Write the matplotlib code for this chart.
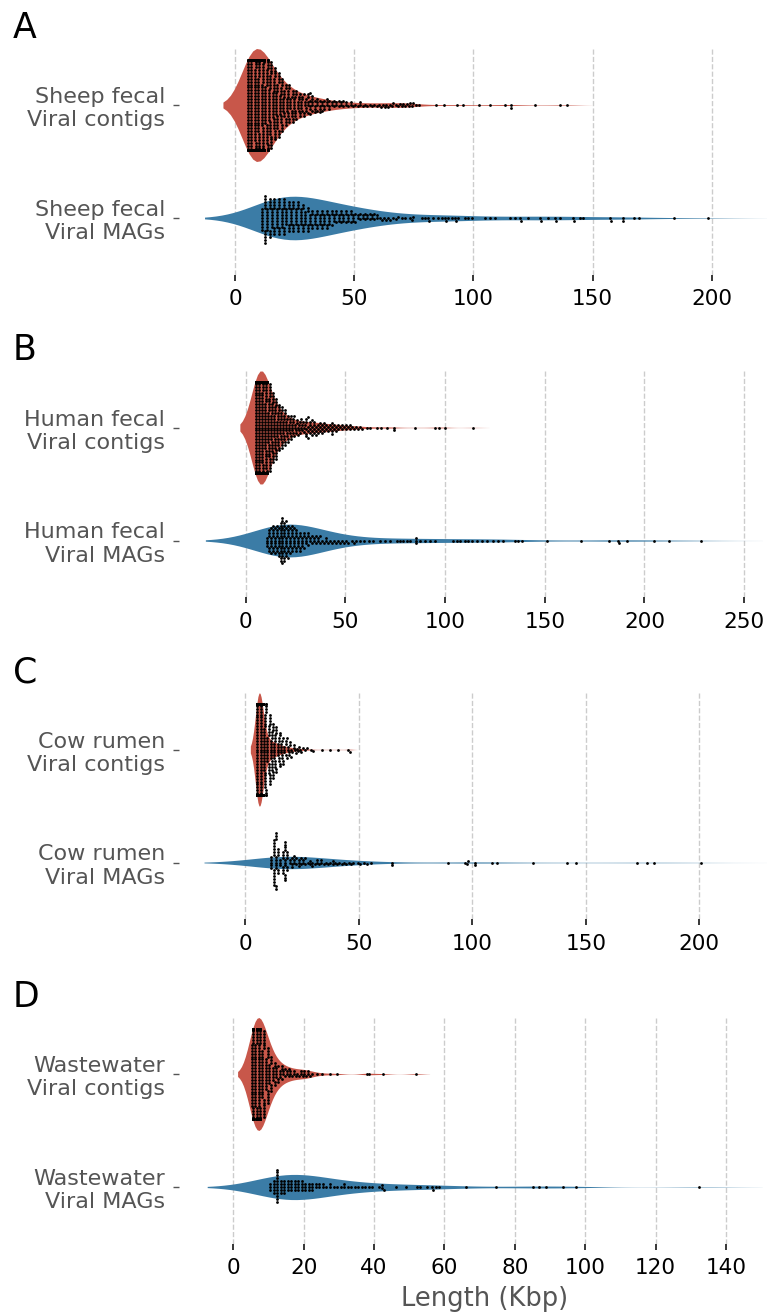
import numpy as np
import pandas as pd
import seaborn as sns
import matplotlib.pyplot as plt
from matplotlib.ticker import MultipleLocator

# length grids (kbp) used for the binned parts of each distribution
CORE_BINS = [5.25, 5.75, 6.25, 6.75, 7.25, 7.75, 8.25, 8.75, 9.25, 9.75,
             10.25, 10.75, 11.25, 11.75, 12.25, 12.75, 13.25, 13.75, 14.25, 14.75,
             15.25, 15.75, 16.25, 16.75, 17.25, 17.75, 18.25, 18.75, 19.25, 19.75,
             20.25, 20.75, 21.25, 21.75, 22.25, 22.75, 23.25, 23.75, 24.25, 24.75,
             25.25, 25.75, 26.25, 26.75, 27.25, 27.75, 28.25, 28.75, 29.25, 29.75]
WIDE_BINS = [30.5, 31.5, 32.5, 33.5, 34.5, 35.5, 36.5, 37.5, 38.5, 39.5,
             40.5, 41.5, 42.5, 43.5, 44.5, 45.5, 46.5, 47.5, 48.5, 49.5,
             50.5, 51.5, 52.5, 53.5, 54.5, 55.5, 56.5, 57.5, 58.5, 59.5]
MAG_BINS = [10.5, 11.5, 12.5, 13.5, 14.5, 15.5, 16.5, 17.5, 18.5, 19.5,
            20.5, 21.5, 22.5, 23.5, 24.5, 25.5, 26.5, 27.5, 28.5, 29.5,
            30.5, 31.5, 32.5, 33.5, 34.5, 35.5, 36.5, 37.5, 38.5, 39.5,
            40.5, 41.5, 42.5, 43.5, 44.5, 45.5, 46.5, 47.5, 48.5, 49.5,
            50.5, 51.5, 52.5, 53.5, 54.5, 55.5, 56.5, 57.5, 58.5, 59.5]

# sheep fecal
sheep_contig_core = [38, 36, 33, 31, 29, 27, 25, 23, 21, 19, 17, 16, 15, 15, 14, 13, 13, 12, 11, 10,
                     10, 9, 9, 8, 8, 8, 7, 7, 6, 6, 5, 5, 5, 5, 5, 4, 4, 4, 4, 4,
                     4, 3, 3, 3, 3, 3, 3, 3, 2, 3]
sheep_contig_wide = [5, 5, 5, 4, 4, 4, 3, 3, 3, 3, 2, 2, 2, 2, 2, 2, 2, 1, 2, 1,
                     1, 1, 2, 1, 1, 1, 1, 1, 1, 1]
sheep_contig_single = [60.5, 61.2, 62.0, 62.8, 63.5, 64.3, 65.0, 66.0, 66.4, 67.5, 68.5, 69.2,
                       69.9, 70.5, 71.3, 72.0, 72.8, 73.4, 74.1, 74.8, 76.0, 77.3, 84.3, 87.7,
                       93.0, 95.5, 102.5, 107.0, 113.3, 115.8, 115.9, 125.8, 136.3, 139.3]
sheep_mag_core = [0, 8, 10, 8, 7, 7, 7, 7, 7, 7, 7, 6, 6, 6, 6, 6, 6, 6, 5, 5,
                  5, 4, 4, 4, 4, 4, 4, 4, 4, 4, 3, 3, 3, 3, 3, 3, 3, 3, 3, 3,
                  2, 2, 2, 2, 2, 2, 2, 2, 2, 2]
sheep_mag_single = [60.8, 61.5, 62.3, 63.2, 64.3, 65.2, 66.4, 67.5, 68.5, 69.9, 71.3, 73.4,
                    74.1, 74.5, 78.3, 79.7, 81.1, 81.4, 83.2, 85.3, 86.7, 88.1, 88.4, 89.5,
                    90.9, 92.3, 92.6, 93.7, 96.5, 97.9, 99.3, 104.9, 107.0, 109.1, 115.4,
                    117.5, 119.6, 119.9, 123.0, 128.0, 128.3, 131.4, 134.2, 134.5, 136.3,
                    141.9, 142.2, 144.7, 146.1, 157.3, 157.6, 162.6, 162.9, 167.4, 169.6,
                    184.2, 198.6]

# human fecal
human_contig_core = [55, 50, 45, 40, 35, 30, 25, 22, 19, 16, 14, 12, 11, 10, 10, 9, 8, 8, 8, 7,
                     7, 6, 6, 5, 5, 5, 5, 5, 4, 4, 4, 3, 3, 3, 3, 3, 3, 3, 2, 2,
                     2, 2, 2, 2, 2, 2, 2, 1, 2, 1]
human_contig_wide = [5, 4, 4, 4, 4, 3, 3, 3, 3, 3, 2, 2, 2, 4, 2, 2, 2, 1, 2, 1,
                     2, 1, 2, 1, 1, 1, 1, 1, 1, 0]
human_contig_single = [60.7, 62.5, 66.0, 68.0, 71.0, 74.4, 74.6, 85.0, 95.0, 97.0, 100.0, 114.0]
human_mag_core = [4, 5, 6, 6, 6, 6, 7, 9, 10, 9, 8, 7, 6, 6, 5, 5, 4, 4, 4, 3,
                  3, 3, 2, 2, 2, 2, 2, 2, 1, 1, 2, 1, 1, 1, 1, 1, 1, 1, 1, 1,
                  1, 1, 0, 1, 1, 1, 0, 1, 0, 1]
human_mag_single = [62.0, 64.0, 67.4, 69.9, 72.4, 75.8, 77.4, 79.1, 80.8, 82.5, 85.5, 85.5,
                    85.6, 87.5, 90.0, 92.5, 95.0, 104.2, 105.9, 107.5, 110.0, 111.7, 113.4,
                    115.9, 118.4, 120.9, 124.3, 126.8, 129.3, 135.1, 136.8, 138.5, 151.0,
                    168.0, 182.4, 186.9, 187.2, 191.4, 205.0, 212.1, 228.4]

# cow rumen
cow_contig_core = [90, 85, 75, 60, 40, 25, 15, 11, 9, 9, 8, 8, 7, 7, 6, 6, 6, 5, 5, 4,
                   4, 4, 3, 3, 3, 3, 2, 2, 2, 2, 2, 1, 2, 1, 1, 1, 1, 1, 1, 1,
                   1, 0, 1, 0, 1, 0, 0, 1, 0, 1]
cow_contig_wide = [0] * 30
cow_contig_single = [33.7, 37.4, 41.0, 45.4, 46.2]
cow_mag_core = [0, 5, 12, 10, 5, 3, 6, 10, 5, 2, 3, 3, 2, 3, 2, 2, 2, 1, 2, 2,
                1, 2, 1, 2, 1, 1, 1, 1, 2, 1, 1, 1, 1, 1, 1, 1, 1, 1, 0, 1,
                1, 0, 1, 1, 0, 1, 0, 0, 0, 0]
cow_mag_single = [64.5, 64.6, 89.2, 96.8, 97.9, 98.1, 101.2, 101.4, 108.7, 111.1, 126.6,
                  141.9, 145.6, 172.7, 176.9, 180.1, 200.8]

# wastewater
waste_contig_core = [22, 23, 23, 23, 22, 20, 17, 14, 11, 9, 7, 6, 5, 4, 4, 3, 3, 3, 2, 2,
                     2, 2, 2, 1, 2, 1, 1, 1, 2, 1, 2, 1, 2, 1, 1, 0, 0, 0, 0, 0,
                     0, 0, 0, 0, 0, 0, 0, 0, 0, 0]
waste_contig_wide = [0] * 30
waste_contig_single = [23.7, 25.1, 27.5, 29.6, 37.9, 38.7, 42.6, 51.8]
waste_mag_core = [3, 5, 12, 5, 5, 4, 4, 4, 4, 4, 3, 3, 3, 2, 2, 2, 1, 2, 1, 1,
                  1, 2, 1, 1, 1, 1, 1, 1, 1, 1, 0, 1, 0, 0, 0, 0, 0, 0, 0, 0,
                  0, 0, 0, 0, 0, 0, 0, 0, 0, 0]
waste_mag_single = [42.2, 42.3, 42.8, 46.2, 49.1, 52.1, 53.1, 55.1, 56.6, 56.7, 57.6, 58.5,
                    66.1, 74.7, 85.3, 87.0, 88.9, 93.6, 97.3, 132.4]

RED = "#c8574a"
BLUE = "#3b7ca6"
GREY = "#555555"


def contigs(core, wide, single):
    return np.concatenate([np.repeat(CORE_BINS, core), np.repeat(WIDE_BINS, wide), single])


def mags(core, single):
    return np.concatenate([np.repeat(MAG_BINS, core), single])


panels = [
    ("A", "Sheep fecal", contigs(sheep_contig_core, sheep_contig_wide, sheep_contig_single),
     mags(sheep_mag_core, sheep_mag_single), (-23.5, 232.8), 50),
    ("B", "Human fecal", contigs(human_contig_core, human_contig_wide, human_contig_single),
     mags(human_mag_core, human_mag_single), (-33.4, 273.0), 50),
    ("C", "Cow rumen", contigs(cow_contig_core, cow_contig_wide, cow_contig_single),
     mags(cow_mag_core, cow_mag_single), (-29.2, 240.0), 50),
    ("D", "Wastewater", contigs(waste_contig_core, waste_contig_wide, waste_contig_single),
     mags(waste_mag_core, waste_mag_single), (-15.4, 158.2), 20),
]

W, H = 767, 1313
rows = [(48.5, 274.5), (371, 597), (693, 919), (1017.5, 1243.5)]

fig = plt.figure(figsize=(W / 100, H / 100), dpi=100)

for (letter, site, ctg, mag, xlim, step), (top, bot) in zip(panels, rows):
    ax = fig.add_axes([179 / W, 1 - bot / H, (790 - 179) / W, (bot - top) / H])
    labels = [f"{site}\nViral contigs", f"{site}\nViral MAGs"]
    df = pd.DataFrame({
        "length": np.concatenate([ctg, mag]),
        "group": [labels[0]] * len(ctg) + [labels[1]] * len(mag),
    })
    # one colour so both violins share the area scaling, then repaint the MAG body
    n0 = len(ax.collections)
    sns.violinplot(data=df, x="length", y="group", order=labels, color=RED, inner=None,
                   linewidth=0, width=1.0, saturation=1, ax=ax)
    bodies = ax.collections[n0:]
    bodies[1].set_facecolor(BLUE)
    bodies[1].set_edgecolor(BLUE)
    sns.swarmplot(data=df, x="length", y="group", order=labels, color="black",
                  size=2.0, ax=ax)

    ax.set_xlim(*xlim)
    ax.set_ylim(1.5, -0.5)
    ax.xaxis.set_major_locator(MultipleLocator(step))
    ax.grid(axis="x", ls="--", lw=1, color="#cccccc")
    ax.set_axisbelow(True)
    for s in ax.spines.values():
        s.set_visible(False)
    ax.tick_params(axis="x", length=4, width=1.1, pad=6.5, labelsize=15.5, colors="black")
    ax.tick_params(axis="y", length=4, width=1, pad=6, labelsize=16, colors=GREY)
    ax.set_ylabel("")
    ax.set_xlabel("")
    fig.text(13 / W, 1 - (top - 10.5) / H, letter, fontsize=25, va="baseline", ha="left")

ax.set_xlabel("Length (Kbp)", fontsize=18.5, color=GREY, labelpad=5.5)

fig.savefig("out.png", dpi=100)
